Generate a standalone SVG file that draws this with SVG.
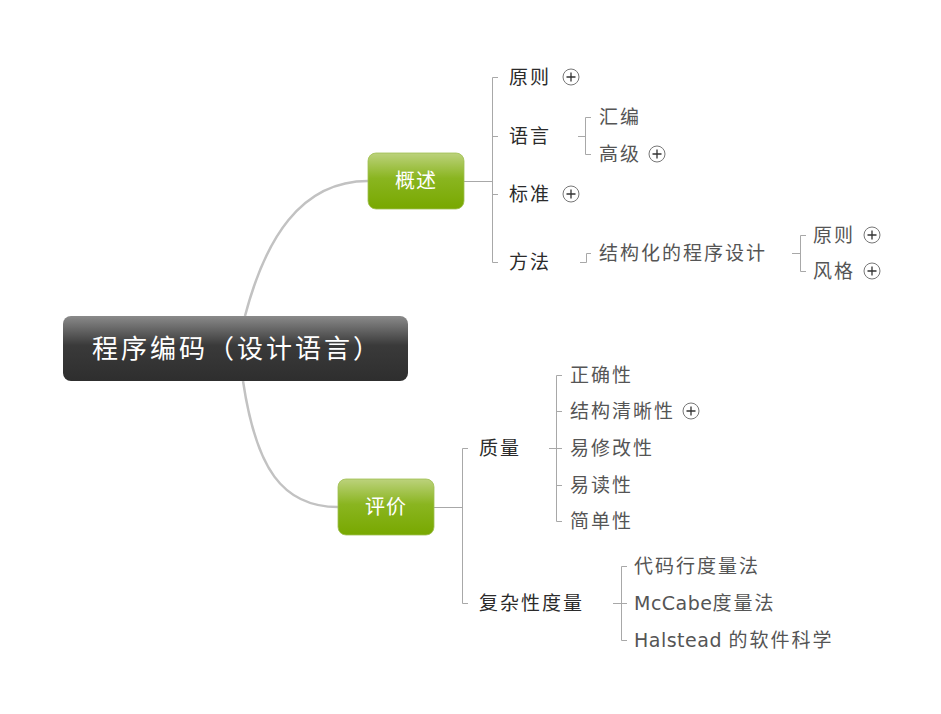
<svg xmlns="http://www.w3.org/2000/svg" width="941" height="714" viewBox="0 0 941 714">
  <defs>
    <linearGradient id="gRoot" x1="0" y1="0" x2="0" y2="1">
      <stop offset="0" stop-color="#8a8a8a"/>
      <stop offset="0.45" stop-color="#3a3a3a"/>
      <stop offset="1" stop-color="#2e2e2e"/>
    </linearGradient>
    <linearGradient id="gGreen" x1="0" y1="0" x2="0" y2="1">
      <stop offset="0" stop-color="#bcd27c"/>
      <stop offset="0.45" stop-color="#8ab520"/>
      <stop offset="1" stop-color="#78a800"/>
    </linearGradient>
    <g id="plus">
      <circle cx="0" cy="0" r="8" fill="#fff" stroke="#777" stroke-width="1"/>
      <path d="M-4.5,0 H4.5 M0,-4.5 V4.5" stroke="#333" stroke-width="1.3"/>
    </g>
  </defs>
  <style>
    text { font-family: "DejaVu Sans", "Noto Sans CJK SC", sans-serif; dominant-baseline: central; }
    .root { font-size: 26px; fill: #fff; letter-spacing: 3px; }
    .main { font-size: 20px; fill: #fff; text-anchor: middle; letter-spacing: 1px; }
    .l1 { font-size: 19px; fill: #2b2b2b; letter-spacing: 2px; }
    .l2 { font-size: 19px; fill: #555; letter-spacing: 2px; }
    .lat { letter-spacing: 0.5px; }
    .curve { fill: none; stroke: #c2c2c2; stroke-width: 2.5; }
    .br { fill: none; stroke: #a8a8a8; stroke-width: 1; }
  </style>

  <g id="connectors">
    <path class="curve" d="M245,316 C265,240 300,181 368,181"/>
    <path class="curve" d="M243,381 C256,468 282,507 338,507"/>
    <!-- 概述 branch -->
    <path class="br" d="M464,181.5 H492.5 M492.5,77.5 V262.5 M492.5,77.5 H498 M492.5,136.5 H498 M492.5,194.5 H498 M492.5,262.5 H498"/>
    <path class="br" d="M578,136.5 H585.5 M585.5,117.5 V154.5 M585.5,117.5 H591 M585.5,154.5 H591"/>
    <path class="br" d="M580,262.5 H586.5 V253.5 H591"/>
    <path class="br" d="M792,253.5 H800.5 M800.5,235.5 V271.5 M800.5,235.5 H806 M800.5,271.5 H806"/>
    <!-- 评价 branch -->
    <path class="br" d="M434,507.5 H462.5 M462.5,448.5 V603.5 M462.5,448.5 H468 M462.5,603.5 H468"/>
    <path class="br" d="M549,448.5 H556.5 M556.5,375.5 V521.5 M556.5,375.5 H562 M556.5,411.5 H562 M556.5,448.5 H562 M556.5,485.5 H562 M556.5,521.5 H562"/>
    <path class="br" d="M613,603.5 H621.5 M621.5,566.5 V640.5 M621.5,566.5 H627 M621.5,603.5 H627 M621.5,640.5 H627"/>
  </g>

  <g id="root">
    <rect x="63" y="316" width="345" height="65" rx="8" fill="url(#gRoot)"/>
    <text class="root" x="92" y="349">程序编码（设计语言）</text>
  </g>

  <g id="overview">
    <rect x="368" y="153" width="96" height="56" rx="8" fill="url(#gGreen)" stroke="#9fbf50" stroke-width="0.8"/>
    <text class="main" x="416" y="181">概述</text>
  </g>
  <g id="evaluation">
    <rect x="338" y="479" width="96" height="56" rx="8" fill="url(#gGreen)" stroke="#9fbf50" stroke-width="0.8"/>
    <text class="main" x="386" y="507">评价</text>
  </g>

  <g id="principle"><text class="l1" x="509" y="77">原则</text><use href="#plus" x="571" y="77"/></g>
  <g id="language"><text class="l1" x="509" y="136">语言</text></g>
  <g id="assembly"><text class="l2" x="599" y="117">汇编</text></g>
  <g id="highlevel"><text class="l2" x="599" y="154">高级</text><use href="#plus" x="657" y="154"/></g>
  <g id="standard"><text class="l1" x="509" y="194">标准</text><use href="#plus" x="571" y="194"/></g>
  <g id="method"><text class="l1" x="509" y="262">方法</text></g>
  <g id="structured"><text class="l2" x="599" y="253">结构化的程序设计</text></g>
  <g id="sp-principle"><text class="l2" x="813" y="235">原则</text><use href="#plus" x="872" y="235"/></g>
  <g id="sp-style"><text class="l2" x="813" y="271">风格</text><use href="#plus" x="872" y="271"/></g>

  <g id="quality"><text class="l1" x="479" y="448">质量</text></g>
  <g id="correctness"><text class="l2" x="570" y="375">正确性</text></g>
  <g id="clarity"><text class="l2" x="570" y="411">结构清晰性</text><use href="#plus" x="691" y="411"/></g>
  <g id="modifiability"><text class="l2" x="570" y="448">易修改性</text></g>
  <g id="readability"><text class="l2" x="570" y="485">易读性</text></g>
  <g id="simplicity"><text class="l2" x="570" y="521">简单性</text></g>

  <g id="complexity"><text class="l1" x="479" y="603">复杂性度量</text></g>
  <g id="loc"><text class="l2" x="634" y="566">代码行度量法</text></g>
  <g id="mccabe"><text class="l2" x="634" y="603"><tspan class="lat">McCabe</tspan>度量法</text></g>
  <g id="halstead"><text class="l2" x="634" y="640"><tspan class="lat">Halstead </tspan>的软件科学</text></g>
</svg>
